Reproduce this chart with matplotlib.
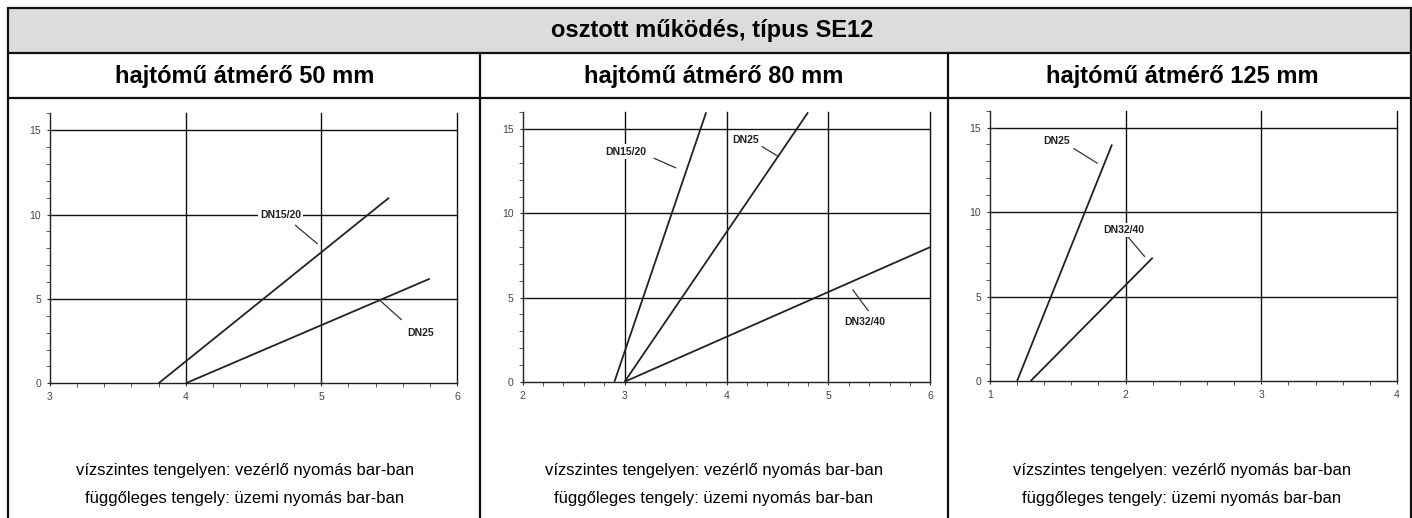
import matplotlib
matplotlib.use("Agg")
import matplotlib.pyplot as plt
from matplotlib.patches import Rectangle
from matplotlib.ticker import MultipleLocator

# ---------------- data ----------------
main_title = "osztott működés, típus SE12"
panel_titles = ["hajtómű átmérő 50 mm", "hajtómű átmérő 80 mm", "hajtómű átmérő 125 mm"]
footer_1 = "vízszintes tengelyen: vezérlő nyomás bar-ban"
footer_2 = "függőleges tengely: üzemi nyomás bar-ban"

x_ranges = [(3, 6), (2, 6), (1, 4)]
y_range = (0, 16)

# panel 1 (50 mm)
p1_names = ["DN15/20", "DN25"]
p1_x = [[3.8, 5.5], [4.0, 5.8]]
p1_y = [[0.0, 11.0], [0.0, 6.2]]

# panel 2 (80 mm)
p2_names = ["DN15/20", "DN25", "DN32/40"]
p2_x = [[2.9, 3.8], [3.0, 4.8], [3.0, 6.0]]
p2_y = [[0.0, 16.0], [0.0, 16.0], [0.0, 8.0]]

# panel 3 (125 mm)
p3_names = ["DN25", "DN32/40"]
p3_x = [[1.2, 1.9], [1.3, 2.2]]
p3_y = [[0.0, 14.0], [0.0, 7.3]]

# label placement (text pos, leader start, leader end) per panel
p1_lab = [((4.70, 10.0), (4.81, 9.36), (4.97, 8.28)),
          ((5.73, 3.0), (5.43, 4.93), (5.59, 3.78))]
p2_lab = [((3.01, 13.67), (3.29, 13.27), (3.50, 12.71)),
          ((4.19, 14.34), (4.35, 13.96), (4.50, 13.41)),
          ((5.36, 3.57), (5.24, 5.45), (5.39, 4.22))]
p3_lab = [((1.49, 14.23), (1.62, 13.75), (1.79, 12.9)),
          ((1.985, 8.95), (2.01, 8.6), (2.14, 7.37))]

W, H = 1412, 518
fig = plt.figure(figsize=(W / 100, H / 100), dpi=100)

sans = ["Liberation Sans", "DejaVu Sans"]

# ---------------- table background ----------------
bg = fig.add_axes([0, 0, 1, 1], zorder=0)
bg.set_xlim(0, W)
bg.set_ylim(H, 0)
bg.axis("off")
bg.add_patch(Rectangle((8, 8), 1403, 45, facecolor="#dcdcdc", edgecolor="none"))
lw = 1.6
for yy in (8, 53, 98):
    bg.plot([8, 1411], [yy, yy], color="#111111", lw=lw, solid_capstyle="butt")
bg.plot([8, 8], [8, H], color="#111111", lw=lw)
bg.plot([1411, 1411], [8, H], color="#111111", lw=lw)
for xx in (480, 948):
    bg.plot([xx, xx], [53, H], color="#111111", lw=lw)

bg.text(712, 31, main_title, ha="center", va="center", fontsize=17,
        fontweight="bold", family=sans)
col_centers = [245, 714, 1182]
for cx, t in zip(col_centers, panel_titles):
    bg.text(cx, 76, t, ha="center", va="center", fontsize=17,
            fontweight="bold", family=sans)
    bg.text(cx, 470, footer_1, ha="center", va="center", fontsize=12, family=sans)
    bg.text(cx, 498, footer_2, ha="center", va="center", fontsize=12, family=sans)

# ---------------- chart panels ----------------
rects = [[0.0354, 0.2600, 0.2882, 0.5212],
         [0.3702, 0.2631, 0.2887, 0.5200],
         [0.7011, 0.2645, 0.2882, 0.5218]]
panels = [(p1_names, p1_x, p1_y, p1_lab),
          (p2_names, p2_x, p2_y, p2_lab),
          (p3_names, p3_x, p3_y, p3_lab)]

for rect, xr, (names, xs, ys, labs) in zip(rects, x_ranges, panels):
    ax = fig.add_axes(rect, zorder=2)
    ax.patch.set_alpha(0)
    ax.set_xlim(*xr)
    ax.set_ylim(*y_range)
    for s in ("top", "right"):
        ax.spines[s].set_visible(False)
    for s in ("left", "bottom"):
        ax.spines[s].set_linewidth(1.0)
        ax.spines[s].set_color("#222222")
    ax.set_xticks(range(xr[0], xr[1] + 1))
    ax.set_yticks([0, 5, 10, 15])
    ax.xaxis.set_minor_locator(MultipleLocator(0.2))
    ax.yaxis.set_minor_locator(MultipleLocator(1))
    ax.tick_params(which="major", direction="inout", length=5, width=0.8,
                   color="#333333", labelsize=7.5, labelcolor="#444444", pad=4)
    ax.tick_params(which="minor", direction="out", length=3, width=0.7, color="#555555")
    for lab in ax.get_xticklabels() + ax.get_yticklabels():
        lab.set_family(sans)
    # grid
    for gx in range(xr[0] + 1, xr[1] + 1):
        ax.plot([gx, gx], [0, 16], color="#111111", lw=1.0, zorder=1, clip_on=False)
    for gy in (5, 10, 15):
        ax.plot([xr[0], xr[1]], [gy, gy], color="#111111", lw=1.0, zorder=1, clip_on=False)
    # series
    for x, y in zip(xs, ys):
        ax.plot(x, y, color="#222222", lw=1.3, zorder=3, solid_capstyle="butt")
    for name, (tp, l0, l1) in zip(names, labs):
        ax.text(tp[0], tp[1], name, ha="center", va="center", fontsize=7.5,
                fontweight="bold", family=sans, color="#222222", zorder=4,
                bbox=dict(facecolor="white", edgecolor="none", pad=1.5))
        ax.plot([l0[0], l1[0]], [l0[1], l1[1]], color="#333333", lw=0.9, zorder=3)

fig.savefig("out.png", dpi=100)
